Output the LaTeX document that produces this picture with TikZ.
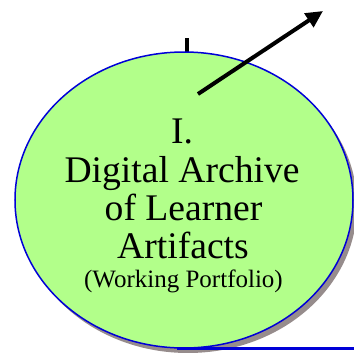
\documentclass[tikz,border=0pt]{standalone}
\usepackage{fontspec}
\setmainfont{Liberation Serif}
\usetikzlibrary{arrows.meta,shadows,shapes.geometric}
\definecolor{fillg}{RGB}{178,255,138}
\definecolor{edgeb}{RGB}{0,0,215}
\definecolor{shad}{RGB}{150,140,140}
\tikzset{
  bubble/.style={ellipse, draw=edgeb, fill=fillg, line width=1.5bp, inner sep=0pt,
    minimum width=338bp, minimum height=296bp,
    drop shadow={shadow xshift=4bp, shadow yshift=-5bp, fill=shad, opacity=1}},
  bigtxt/.style={anchor=base, inner sep=0pt, font=\fontsize{37.6bp}{38.4bp}\selectfont},
  smalltxt/.style={anchor=base, inner sep=0pt, font=\fontsize{25bp}{29bp}\selectfont},
  blackline/.style={line width=4bp, black},
  bluerule/.style={line width=3bp, edgeb}
}
\begin{document}
\begin{tikzpicture}[x=1bp,y=-1bp]
\useasboundingbox (0,0) rectangle (354,353);
\coordinate (stub) at (187,38);
\draw[line width=3.5bp] (stub) -- (187,53);
\node[bubble] (arch) at (184,200) {};
\node[bigtxt] (t1) at (182,143) {I.};
\node[bigtxt] (t2) at (182,182) {Digital Archive};
\node[bigtxt] (t3) at (183.5,220) {of Learner};
\node[bigtxt] (t4) at (183,258) {Artifacts};
\node[smalltxt] (t5) at (183.5,287) {(Working Portfolio)};
\coordinate (a1) at (198,94);
\coordinate (a2) at (323,11);
\draw[blackline, -{Triangle[length=17bp,width=16bp]}] (a1) -- (a2);
\coordinate (b1) at (177,348);
\coordinate (b2) at (354,348);
\draw[bluerule] (b1) -- (b2);
\end{tikzpicture}
\end{document}
